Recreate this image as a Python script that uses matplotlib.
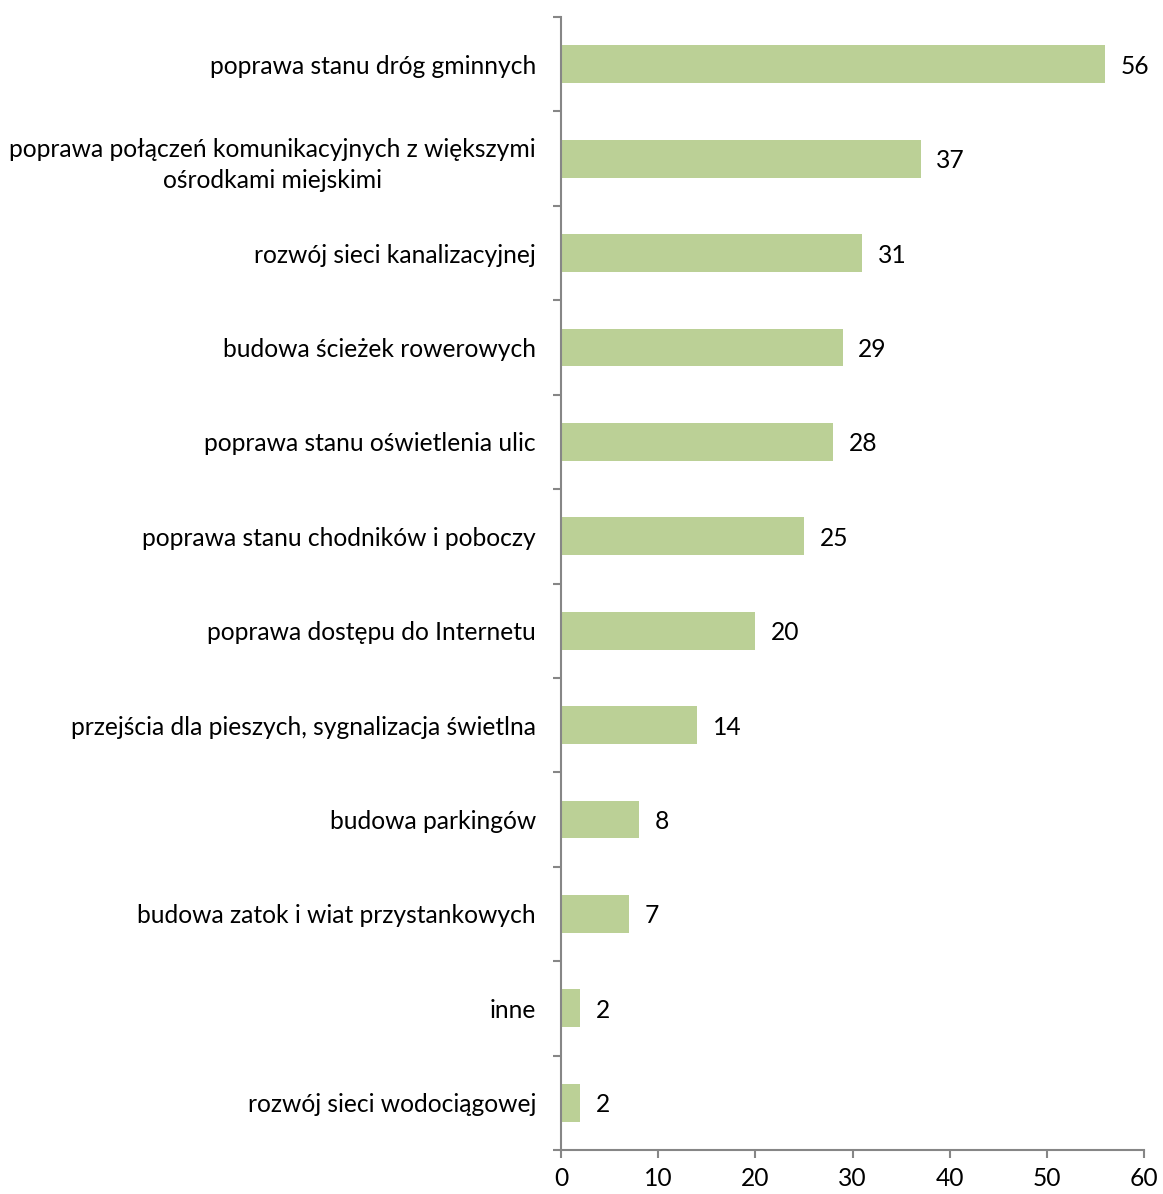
import matplotlib
matplotlib.use("Agg")
import matplotlib.pyplot as plt
import numpy as np

categories = [
    "poprawa stanu dróg gminnych",
    "poprawa połączeń komunikacyjnych z większymi\nośrodkami miejskimi",
    "rozwój sieci kanalizacyjnej",
    "budowa ścieżek rowerowych",
    "poprawa stanu oświetlenia ulic",
    "poprawa stanu chodników i poboczy",
    "poprawa dostępu do Internetu",
    "przejścia dla pieszych, sygnalizacja świetlna",
    "budowa parkingów",
    "budowa zatok i wiat przystankowych",
    "inne",
    "rozwój sieci wodociągowej",
]
values = [56, 37, 31, 29, 28, 25, 20, 14, 8, 7, 2, 2]
xticks = [0, 10, 20, 30, 40, 50, 60]

plt.rcParams['font.family'] = ['Lato', 'DejaVu Sans']
FS = 17.7

fig = plt.figure(figsize=(11.63, 11.94), dpi=100)
ax = fig.add_axes([561/1163, 44/1194, 583/1163, 1133/1194])

pos = np.arange(len(categories))
ax.barh(pos, values, height=0.4, color="#BBD096", edgecolor="none")
for p, v in zip(pos, values):
    ax.text(v + 1.6, p, str(v), va="center_baseline", ha="left", fontsize=FS, color="black")

ax.set_xlim(0, 60)
ax.set_ylim(len(categories) - 0.5, -0.5)
ax.set_xticks(xticks)
ax.set_xticklabels([str(t) for t in xticks], fontsize=FS)
ax.set_yticks(pos)
ax.set_yticklabels(categories, fontsize=FS, multialignment="center", linespacing=1.45)
ax.set_yticks(np.arange(-0.5, len(categories)), minor=True)
ax.tick_params(axis="y", which="major", length=0, pad=18)
ax.tick_params(axis="y", which="minor", length=6, color="#868686", width=1.5)
ax.tick_params(axis="x", length=6, color="#868686", width=1.5, pad=6)

for s in ["top", "right"]:
    ax.spines[s].set_visible(False)
for s in ["left", "bottom"]:
    ax.spines[s].set_color("#868686")
    ax.spines[s].set_linewidth(1.5)

fig.savefig("out.png", dpi=100, facecolor="white")
